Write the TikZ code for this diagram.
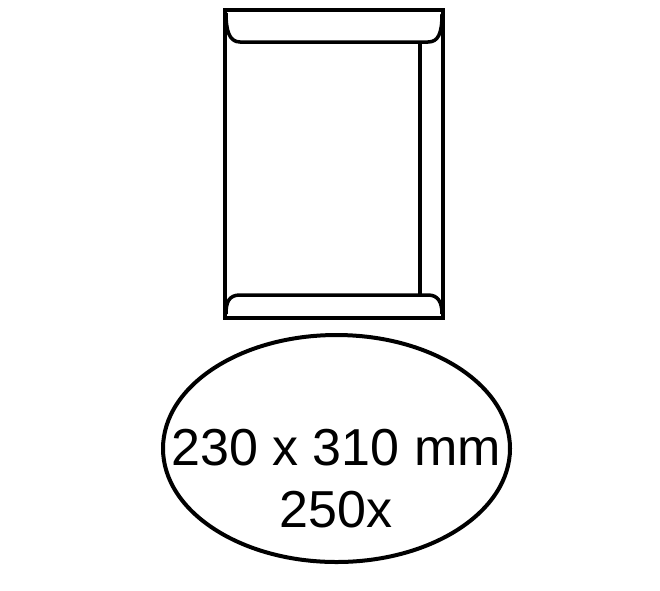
\documentclass[tikz,border=0pt]{standalone}
\usepackage{fontspec}
\setmainfont{Liberation Sans}
\usetikzlibrary{shapes.geometric}
\begin{document}
\begin{tikzpicture}[x=1pt,y=-1pt,
  env/.style={line width=3.5pt,line join=miter},
  oval/.style={draw,line width=4pt,ellipse,minimum width=347pt,minimum height=227pt,inner sep=0pt},
  lbl/.style={font=\fontsize{52}{62}\selectfont,align=center,inner sep=0pt}]
\useasboundingbox (0,0) rectangle (660,590);
% envelope outline
\draw[env] (225,10) rectangle (443,318);
% top flap
\draw[env] (226,13) .. controls (226,30) and (229,42) .. (240,42) -- (428,42)
  .. controls (438,42) and (442,34) .. (442,14);
% bottom flap
\draw[env] (226,314) .. controls (226,302) and (229,295) .. (240,295) -- (428,295)
  .. controls (438,295) and (442,302) .. (442,314);
% side seam
\draw[env] (420,42) -- (420,295);
% label
\node[oval] (o) at (336.5,448.5) {};
\node[lbl,anchor=base] (t1) at (336,465) {230 x 310 mm};
\node[lbl,anchor=base] (t2) at (336,527) {250x};
\end{tikzpicture}
\end{document}
